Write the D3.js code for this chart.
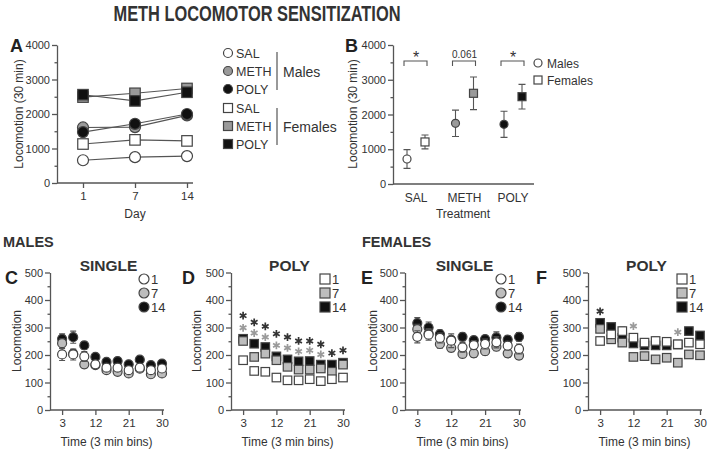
<!DOCTYPE html>
<html>
<head>
<meta charset="utf-8">
<script src="https://cdn.jsdelivr.net/npm/d3@7"></script>
<style>
  body { margin: 0; background: #fff; }
</style>
</head>
<body>
<svg id="chart" width="709" height="450"></svg>
<script>
// ---- data ----
const days = [1, 7, 14];
const groups = ["SAL", "METH", "POLY"];
const dayMales = [[660, 750, 780], [1610, 1620, 1960], [1475, 1715, 2000]];
const dayFemales = [[1130, 1250, 1220], [2490, 2600, 2740], [2560, 2380, 2630]];

const bMaleMean = [720, 1745, 1717];
const bMaleErr = [270, 380, 375];
const bFemaleMean = [1210, 2610, 2513];
const bFemaleErr = [200, 470, 355];
const bSig = ["*", "0.061", "*"];
const bSigLevel = 3540;

const bins = [3, 6, 9, 12, 15, 18, 21, 24, 27, 30];
const binTicks = [3, 12, 21, 30];
const dayLabels = ["1", "7", "14"];

const c1 = [202, 202, 195, 166, 154, 154, 145, 154, 145, 151];
const c7 = [243, 205, 166, 163, 145, 139, 133, 150, 130, 133];
const c14 = [259, 265, 235, 193, 175, 178, 166, 183, 163, 169];
const cErr1 = [22, 20, 18, 10, 10, 12, 12, 10, 10, 10];
const cErr7 = [15, 14, 12, 10, 10, 10, 10, 8, 10, 10];
const cErr14 = [18, 22, 14, 8, 8, 10, 10, 10, 8, 10];

const d1 = [181, 142, 139, 118, 108, 108, 112, 105, 112, 118];
const d7 = [251, 193, 205, 181, 157, 147, 147, 151, 139, 165];
const d14 = [259, 241, 229, 195, 184, 177, 178, 165, 165, 172];
const dErr1 = [12, 8, 8, 8, 8, 8, 8, 8, 8, 8];
const dErr7 = [12, 12, 10, 10, 10, 10, 10, 10, 10, 10];
const dErr14 = [12, 12, 10, 8, 8, 8, 10, 8, 8, 8];
const dStarsDark = [[3, 343], [6, 319], [9, 304], [12, 277], [15, 265], [18, 251], [21, 251], [24, 239], [27, 207], [30, 217]];
const dStarsGray = [[3, 299], [6, 280], [9, 265], [12, 235], [15, 226], [18, 213], [21, 217], [24, 202]];

const e1 = [266, 274, 262, 252, 228, 236, 240, 246, 234, 222];
const e7 = [294, 278, 240, 226, 204, 206, 214, 230, 206, 198];
const e14 = [316, 300, 276, 255, 266, 254, 258, 264, 256, 266];
const eErr1 = [22, 20, 18, 25, 18, 16, 18, 20, 16, 18];
const eErr7 = [18, 16, 15, 14, 14, 14, 14, 14, 14, 14];
const eErr14 = [20, 20, 15, 12, 14, 12, 12, 20, 14, 16];

const f1 = [251, 275, 287, 263, 245, 251, 248, 239, 245, 239];
const f7 = [295, 257, 245, 193, 196, 184, 190, 172, 202, 199];
const f14 = [317, 302, 263, 242, 235, 235, 235, 238, 287, 271];
const fErr1 = [12, 12, 15, 12, 12, 14, 14, 12, 14, 14];
const fErr7 = [12, 10, 14, 12, 10, 10, 10, 10, 12, 12];
const fErr14 = [10, 10, 10, 10, 10, 10, 10, 10, 12, 14];
const fStarsDark = [[3, 359]];
const fStarsGray = [[12, 305], [24, 283]];

// ---- style ----
const FONT = '"Liberation Sans", Arial, Helvetica, sans-serif';
const INK = "#333";
const AXIS = "#555";
const groupFill = ["#fff", "#9a9a9a", "#111"];
const dayFill = ["#fff", "#bdbdbd", "#111"];

const svg = d3.select("#chart").attr("font-family", FONT);
const star = d3.symbol().type(d3.symbolAsterisk).size(42);

function styleAxis(a, fs) {
  a.attr("font-family", FONT).attr("font-size", fs);
  a.selectAll("path, line").attr("stroke", AXIS).attr("stroke-width", 1.3);
  a.selectAll("text").attr("fill", INK);
}

function leftAxis(x, y, major, minor) {
  const g = svg.append("g").attr("transform", `translate(${x},0)`);
  g.append("g")
    .call(d3.axisLeft(y).tickValues(minor).tickSize(2.5).tickFormat(""))
    .call(a => a.select(".domain").remove())
    .call(styleAxis, 11);
  g.append("g")
    .call(d3.axisLeft(y).tickValues(major).tickSize(5).tickSizeOuter(0).tickPadding(2).tickFormat(d3.format("d")))
    .call(styleAxis, 11);
}

function baseLine(x0, x1, y) {
  svg.append("line").attr("x1", x0).attr("x2", x1).attr("y1", y).attr("y2", y)
    .attr("stroke", AXIS).attr("stroke-width", 1.3);
}

function label(x, y, txt, size, opts = {}) {
  const t = svg.append("text").attr("x", x).attr("y", y).text(txt)
    .attr("font-size", size).attr("fill", opts.fill || INK)
    .attr("text-anchor", opts.anchor || "start")
    .attr("font-weight", opts.bold ? "bold" : "normal");
  if (opts.rotate) t.attr("transform", `rotate(-90,${x},${y})`);
  return t;
}

function marker(g, shape, x, y, size, fill) {
  if (shape === "circle") {
    g.append("circle").attr("cx", x).attr("cy", y).attr("r", size / 2)
      .attr("fill", fill).attr("stroke", "#444").attr("stroke-width", 1.2);
  } else {
    g.append("rect").attr("x", x - size / 2).attr("y", y - size / 2)
      .attr("width", size).attr("height", size)
      .attr("fill", fill).attr("stroke", "#444").attr("stroke-width", 1.2);
  }
}

function errorBar(g, x, y0, y1, cap) {
  g.append("path")
    .attr("d", `M${x},${y0}V${y1}M${x - cap},${y0}H${x + cap}M${x - cap},${y1}H${x + cap}`)
    .attr("stroke", "#555").attr("stroke-width", 1.1).attr("fill", "none");
}

// ---- title ----
label(257, 21, "METH LOCOMOTOR SENSITIZATION", 22, { anchor: "middle", bold: true })
  .attr("textLength", 287).attr("lengthAdjust", "spacingAndGlyphs");

// ---- panel A ----
{
  const y = d3.scaleLinear().domain([0, 4000]).range([183, 45]);
  const x = d3.scalePoint().domain(days).range([83, 187]);
  leftAxis(57, y, [0, 1000, 2000, 3000, 4000], [500, 1500, 2500, 3500]);
  baseLine(57, 193, 183);
  svg.append("g").attr("transform", "translate(0,183)")
    .call(d3.axisBottom(x).tickSize(5).tickSizeOuter(0).tickPadding(4))
    .call(a => a.select(".domain").remove())
    .call(styleAxis, 11.5);
  label(10, 52, "A", 18, { bold: true, fill: "#222" });
  label(23, 114, "Locomotion (30 min)", 12, { anchor: "middle", rotate: true });
  label(135, 218, "Day", 12, { anchor: "middle" });

  const g = svg.append("g");
  const line = d3.line().x((d, i) => x(days[i])).y(d => y(d));
  const sets = [
    ...dayMales.map((v, i) => ({ v, shape: "circle", fill: groupFill[i] })),
    ...dayFemales.map((v, i) => ({ v, shape: "square", fill: groupFill[i] }))
  ];
  sets.forEach(s => {
    g.append("path").attr("d", line(s.v)).attr("fill", "none")
      .attr("stroke", "#555").attr("stroke-width", 1.1);
  });
  sets.forEach(s => s.v.forEach((d, i) => marker(g, s.shape, x(days[i]), y(d), s.shape === "circle" ? 11 : 10.5, s.fill)));

  // legend
  const lg = svg.append("g");
  const rowsY = [53, 71, 89, 108, 126, 144];
  groups.forEach((gname, i) => {
    marker(lg, "circle", 228, rowsY[i], 9, groupFill[i]);
    label(236, rowsY[i] + 4.5, gname, 12.5);
    marker(lg, "square", 228, rowsY[i + 3], 9, groupFill[i]);
    label(236, rowsY[i + 3] + 4.5, gname, 12.5);
  });
  lg.append("line").attr("x1", 277).attr("x2", 277).attr("y1", 52).attr("y2", 90).attr("stroke", AXIS).attr("stroke-width", 1.2);
  lg.append("line").attr("x1", 277).attr("x2", 277).attr("y1", 108).attr("y2", 145).attr("stroke", AXIS).attr("stroke-width", 1.2);
  label(283, 77, "Males", 14);
  label(283, 132, "Females", 14);
}

// ---- panel B ----
{
  const y = d3.scaleLinear().domain([0, 4000]).range([184, 45]);
  const x = d3.scalePoint().domain(groups).range([416, 513]);
  leftAxis(393, y, [0, 1000, 2000, 3000, 4000], [500, 1500, 2500, 3500]);
  baseLine(393, 534, 184);
  groups.forEach(gname => label(x(gname), 202, gname, 12, { anchor: "middle" }));
  label(345, 52, "B", 18, { bold: true, fill: "#222" });
  label(357, 114, "Locomotion (30 min)", 12, { anchor: "middle", rotate: true });
  label(463, 218, "Treatment", 12, { anchor: "middle" });

  const g = svg.append("g");
  groups.forEach((gname, i) => {
    const xm = x(gname) - 9, xf = x(gname) + 9;
    errorBar(g, xm, y(bMaleMean[i] - bMaleErr[i]), y(bMaleMean[i] + bMaleErr[i]), 3.5);
    errorBar(g, xf, y(bFemaleMean[i] - bFemaleErr[i]), y(bFemaleMean[i] + bFemaleErr[i]), 3.5);
    marker(g, "circle", xm, y(bMaleMean[i]), 8, groupFill[i]);
    marker(g, "square", xf, y(bFemaleMean[i]), 8, groupFill[i]);
    const yb = y(bSigLevel);
    g.append("path").attr("d", `M${xm - 3},${yb + 5}V${yb}H${xf + 2}V${yb + 5}`)
      .attr("fill", "none").attr("stroke", "#555").attr("stroke-width", 1.1);
    if (bSig[i] === "*") label(x(gname), yb + 2, "*", 16, { anchor: "middle" });
    else label(x(gname), yb - 3, bSig[i], 10, { anchor: "middle" });
  });
  marker(g, "circle", 538, 63, 8, "#fff");
  label(547, 67.5, "Males", 12);
  marker(g, "square", 538, 80, 8, "#fff");
  label(547, 84.5, "Females", 12);
}

// ---- bottom panels ----
label(3, 247, "MALES", 14.5, { bold: true });
label(362, 247, "FEMALES", 14.5, { bold: true });

const panels = [
  { key: "C", title: "SINGLE", shape: "circle", range: [51, 162], keyX: 5, ylab: 21, series: [c1, c7, c14], errs: [cErr1, cErr7, cErr14], dark: [], gray: [] },
  { key: "D", title: "POLY", shape: "square", range: [232, 343], keyX: 182, ylab: 201, series: [d1, d7, d14], errs: [dErr1, dErr7, dErr14], dark: dStarsDark, gray: dStarsGray },
  { key: "E", title: "SINGLE", shape: "circle", range: [406, 519], keyX: 361, ylab: 377, series: [e1, e7, e14], errs: [eErr1, eErr7, eErr14], dark: [], gray: [] },
  { key: "F", title: "POLY", shape: "square", range: [589, 700], keyX: 536, ylab: 558, series: [f1, f7, f14], errs: [fErr1, fErr7, fErr14], dark: fStarsDark, gray: fStarsGray }
];

panels.forEach(p => {
  const y = d3.scaleLinear().domain([0, 500]).range([410, 272.5]);
  const x = d3.scaleLinear().domain([0, 30]).range(p.range);
  const ax = p.range[0] - 1;
  leftAxis(ax, y, [0, 100, 200, 300, 400, 500], [50, 150, 250, 350, 450]);
  baseLine(ax, x(30) + 2, 410);
  svg.append("g").attr("transform", "translate(0,410)")
    .call(d3.axisBottom(x).tickValues(binTicks).tickSize(5).tickSizeOuter(0).tickPadding(4))
    .call(a => a.select(".domain").remove())
    .call(styleAxis, 11.5);
  label(p.keyX, 284, p.key, 18, { bold: true, fill: "#222" });
  label((p.range[0] + p.range[1]) / 2 + 2, 271, p.title, 15.5, { anchor: "middle", bold: true });
  label(p.ylab, 341, "Locomotion", 12, { anchor: "middle", rotate: true });
  label((p.range[0] + p.range[1]) / 2, 446, "Time (3 min bins)", 12, { anchor: "middle" });

  const g = svg.append("g");
  const size = p.shape === "circle" ? 9 : 8.5;
  // day 14 drawn first, day 1 on top
  [2, 1, 0].forEach(k => {
    p.series[k].forEach((v, i) => {
      const e = p.errs[k][i];
      errorBar(g, x(bins[i]), y(v - e), y(v + e), 3);
    });
    p.series[k].forEach((v, i) => marker(g, p.shape, x(bins[i]), y(v), size, dayFill[k]));
  });

  // significance asterisks
  [[p.dark, "#333"], [p.gray, "#9a9a9a"]].forEach(([pts, col]) => {
    g.selectAll(null).data(pts).join("path")
      .attr("d", star)
      .attr("transform", d => `translate(${x(d[0])},${y(d[1])})`)
      .attr("fill", "none").attr("stroke", col).attr("stroke-width", 1.7);
  });

  // legend
  const lx = p.range[1] - 18, ly = [279, 293, 307];
  dayLabels.forEach((d, k) => {
    marker(g, p.shape, lx, ly[k], 10, dayFill[k]);
    label(lx + 7, ly[k] + 5, d, 13);
  });
});
</script>
</body>
</html>
